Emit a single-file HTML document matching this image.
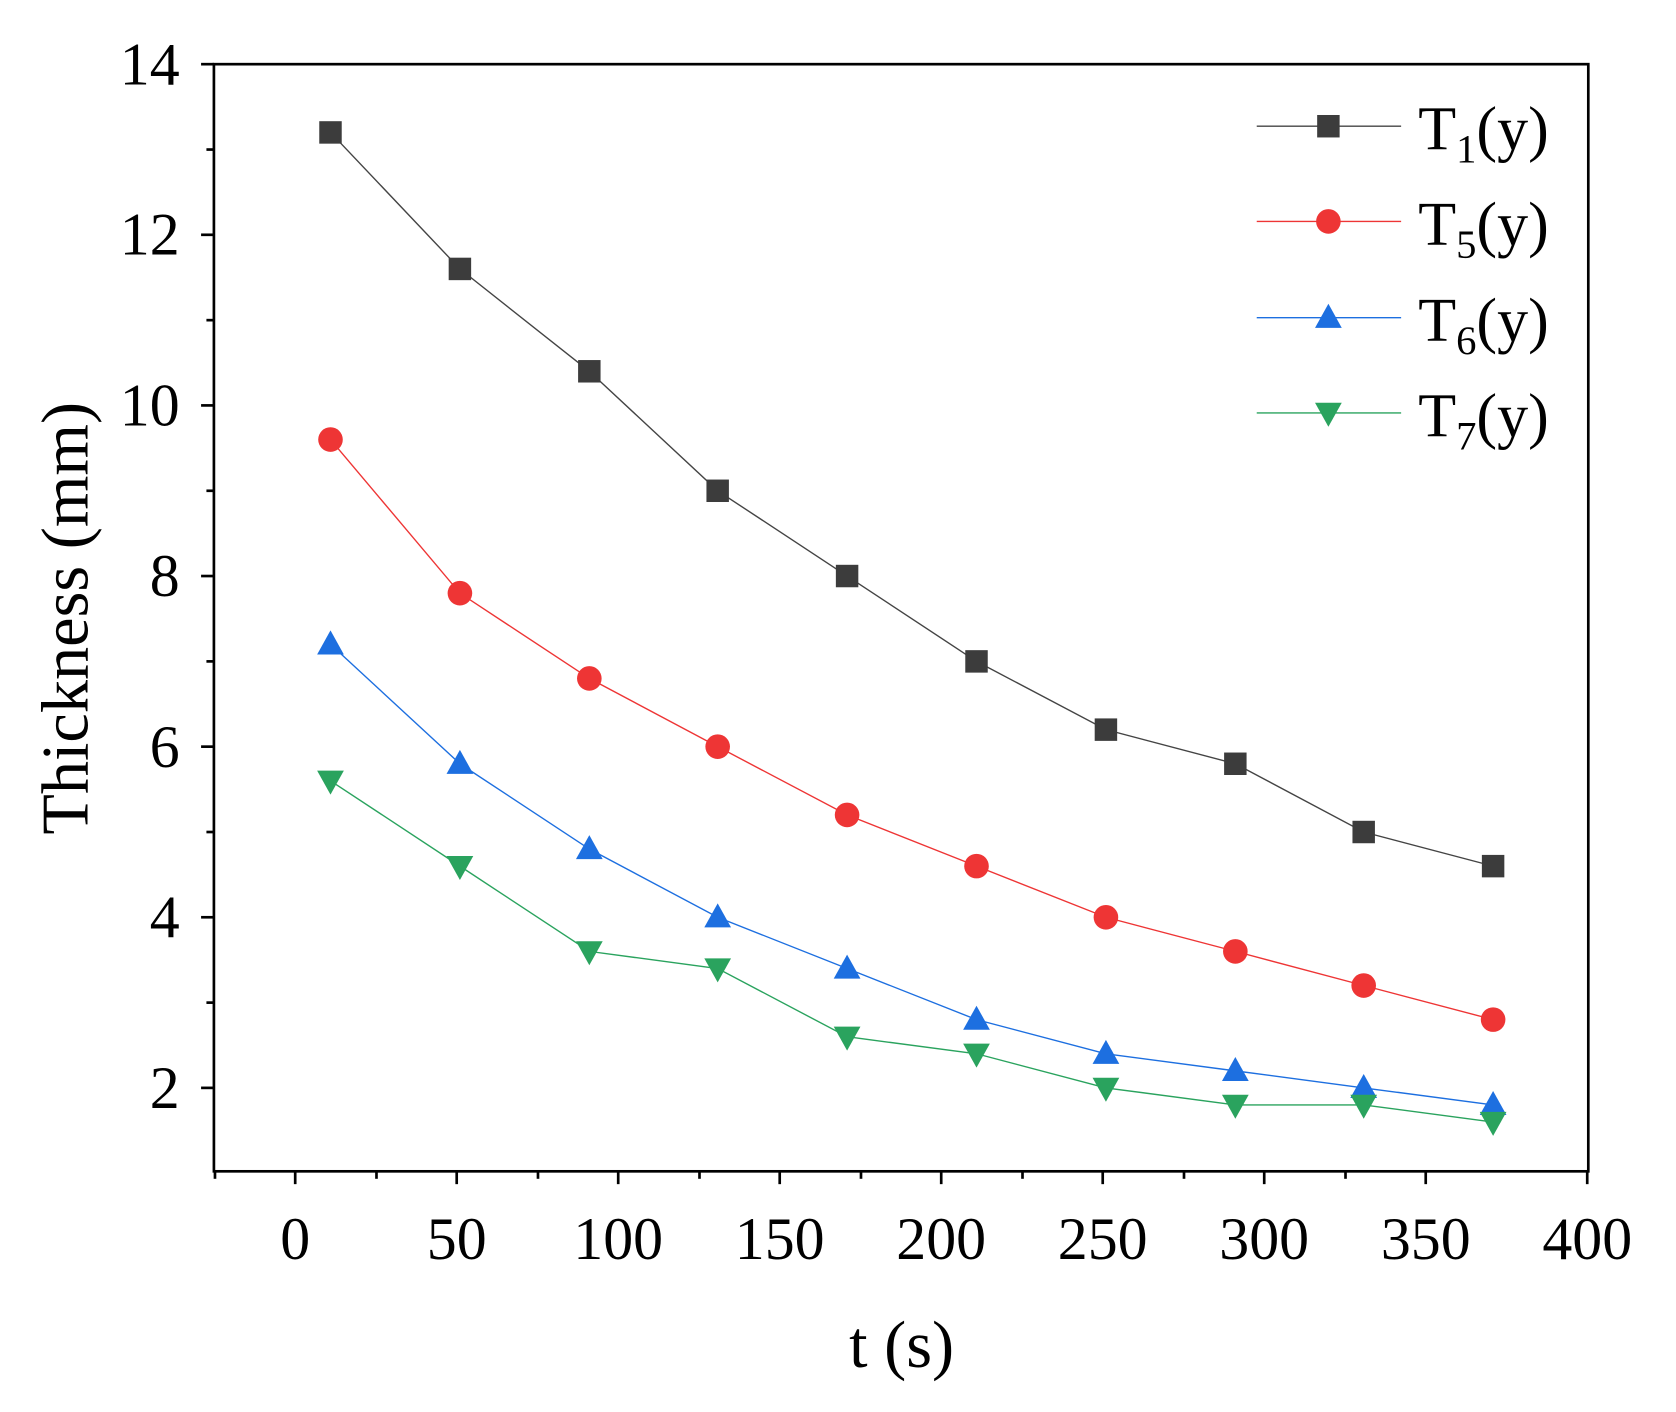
<!DOCTYPE html>
<html><head><style>html,body{margin:0;padding:0;background:#fff}svg{display:block}</style></head>
<body>
<svg width="1676" height="1412" viewBox="0 0 1567 1320" preserveAspectRatio="none" xmlns="http://www.w3.org/2000/svg" font-family="Liberation Serif, serif">
<defs>
<rect id="sq" x="-10.5" y="-10.5" width="21" height="21" fill="#3c3c3c"/>
<circle id="ci" r="11.5" fill="#ee3535"/>
<path id="tu" d="M0,-13 L12.5,9.5 L-12.5,9.5Z" fill="#1d6fe0"/>
<path id="td" d="M0,13 L12.5,-9.5 L-12.5,-9.5Z" fill="#2aa35e"/>
</defs>
<rect x="200" y="60" width="1285" height="1035" fill="none" stroke="#000" stroke-width="2.5"/>
<g stroke="#000" stroke-width="2.5">
<line x1="188" y1="60" x2="200" y2="60"/><line x1="188" y1="219.5" x2="200" y2="219.5"/><line x1="188" y1="379" x2="200" y2="379"/><line x1="188" y1="538.5" x2="200" y2="538.5"/><line x1="188" y1="698" x2="200" y2="698"/><line x1="188" y1="857.5" x2="200" y2="857.5"/><line x1="188" y1="1017" x2="200" y2="1017"/>
<line x1="193" y1="139.8" x2="200" y2="139.8"/><line x1="193" y1="299.3" x2="200" y2="299.3"/><line x1="193" y1="458.8" x2="200" y2="458.8"/><line x1="193" y1="618.3" x2="200" y2="618.3"/><line x1="193" y1="777.8" x2="200" y2="777.8"/><line x1="193" y1="937.3" x2="200" y2="937.3"/>
<line x1="276" y1="1095" x2="276" y2="1107"/><line x1="427" y1="1095" x2="427" y2="1107"/><line x1="578" y1="1095" x2="578" y2="1107"/><line x1="729" y1="1095" x2="729" y2="1107"/><line x1="880" y1="1095" x2="880" y2="1107"/><line x1="1031" y1="1095" x2="1031" y2="1107"/><line x1="1182" y1="1095" x2="1182" y2="1107"/><line x1="1333" y1="1095" x2="1333" y2="1107"/><line x1="1484" y1="1095" x2="1484" y2="1107"/>
<line x1="201" y1="1095" x2="201" y2="1102"/><line x1="352" y1="1095" x2="352" y2="1102"/><line x1="503" y1="1095" x2="503" y2="1102"/><line x1="654" y1="1095" x2="654" y2="1102"/><line x1="805" y1="1095" x2="805" y2="1102"/><line x1="956" y1="1095" x2="956" y2="1102"/><line x1="1107" y1="1095" x2="1107" y2="1102"/><line x1="1258" y1="1095" x2="1258" y2="1102"/>
</g>
<g font-size="56" text-anchor="end">
<text x="168" y="79">14</text><text x="168" y="238">12</text><text x="168" y="398">10</text><text x="168" y="557">8</text><text x="168" y="717">6</text><text x="168" y="876">4</text><text x="168" y="1036">2</text>
</g>
<g font-size="56" text-anchor="middle">
<text x="276" y="1177">0</text><text x="427" y="1177">50</text><text x="578" y="1177">100</text><text x="729" y="1177">150</text><text x="880" y="1177">200</text><text x="1031" y="1177">250</text><text x="1182" y="1177">300</text><text x="1333" y="1177">350</text><text x="1484" y="1177">400</text>
</g>
<text x="843" y="1278" font-size="62" text-anchor="middle">t (s)</text>
<text transform="translate(82,578) rotate(-90)" font-size="62" text-anchor="middle">Thickness (mm)</text>
<g fill="none" stroke-width="1.3">
<polyline stroke="#444" points="309,123.8 430,251.4 551,347.1 671,458.8 792,538.5 913,618.3 1034,682.1 1155,714 1275,777.8 1396,809.7"/>
<polyline stroke="#ee3535" points="309,410.9 430,554.5 551,634.2 671,698 792,761.8 913,809.7 1034,857.5 1155,889.4 1275,921.3 1396,953.2"/>
<polyline stroke="#1d6fe0" points="309,602.3 430,714 551,793.7 671,857.5 792,905.4 913,953.2 1034,985.1 1155,1001.1 1275,1017 1396,1032.9"/>
<polyline stroke="#2aa35e" points="309,729.9 430,809.7 551,889.4 671,905.4 792,969.2 913,985.1 1034,1017 1155,1032.9 1275,1032.9 1396,1048.9"/>
</g>
<g>
<use href="#sq" x="309" y="123.8"/><use href="#sq" x="430" y="251.4"/><use href="#sq" x="551" y="347.1"/><use href="#sq" x="671" y="458.8"/><use href="#sq" x="792" y="538.5"/><use href="#sq" x="913" y="618.3"/><use href="#sq" x="1034" y="682.1"/><use href="#sq" x="1155" y="714"/><use href="#sq" x="1275" y="777.8"/><use href="#sq" x="1396" y="809.7"/>
<use href="#ci" x="309" y="410.9"/><use href="#ci" x="430" y="554.5"/><use href="#ci" x="551" y="634.2"/><use href="#ci" x="671" y="698"/><use href="#ci" x="792" y="761.8"/><use href="#ci" x="913" y="809.7"/><use href="#ci" x="1034" y="857.5"/><use href="#ci" x="1155" y="889.4"/><use href="#ci" x="1275" y="921.3"/><use href="#ci" x="1396" y="953.2"/>
<use href="#tu" x="309" y="602.3"/><use href="#tu" x="430" y="714"/><use href="#tu" x="551" y="793.7"/><use href="#tu" x="671" y="857.5"/><use href="#tu" x="792" y="905.4"/><use href="#tu" x="913" y="953.2"/><use href="#tu" x="1034" y="985.1"/><use href="#tu" x="1155" y="1001.1"/><use href="#tu" x="1275" y="1017"/><use href="#tu" x="1396" y="1032.9"/>
<use href="#td" x="309" y="729.9"/><use href="#td" x="430" y="809.7"/><use href="#td" x="551" y="889.4"/><use href="#td" x="671" y="905.4"/><use href="#td" x="792" y="969.2"/><use href="#td" x="913" y="985.1"/><use href="#td" x="1034" y="1017"/><use href="#td" x="1155" y="1032.9"/><use href="#td" x="1275" y="1032.9"/><use href="#td" x="1396" y="1048.9"/>
</g>
<g stroke-width="1.3">
<line x1="1175" y1="118" x2="1310" y2="118" stroke="#444"/>
<line x1="1175" y1="207" x2="1310" y2="207" stroke="#ee3535"/>
<line x1="1175" y1="297" x2="1310" y2="297" stroke="#1d6fe0"/>
<line x1="1175" y1="386" x2="1310" y2="386" stroke="#2aa35e"/>
</g>
<use href="#sq" x="1242" y="118"/><use href="#ci" x="1242" y="207"/><use href="#tu" x="1242" y="297"/><use href="#td" x="1242" y="386"/>
<g font-size="58">
<text x="1326" y="140">T<tspan font-size="38" dy="12">1</tspan><tspan dy="-12">(y)</tspan></text>
<text x="1326" y="229">T<tspan font-size="38" dy="12">5</tspan><tspan dy="-12">(y)</tspan></text>
<text x="1326" y="319">T<tspan font-size="38" dy="12">6</tspan><tspan dy="-12">(y)</tspan></text>
<text x="1326" y="408">T<tspan font-size="38" dy="12">7</tspan><tspan dy="-12">(y)</tspan></text>
</g>
</svg>
</body></html>
